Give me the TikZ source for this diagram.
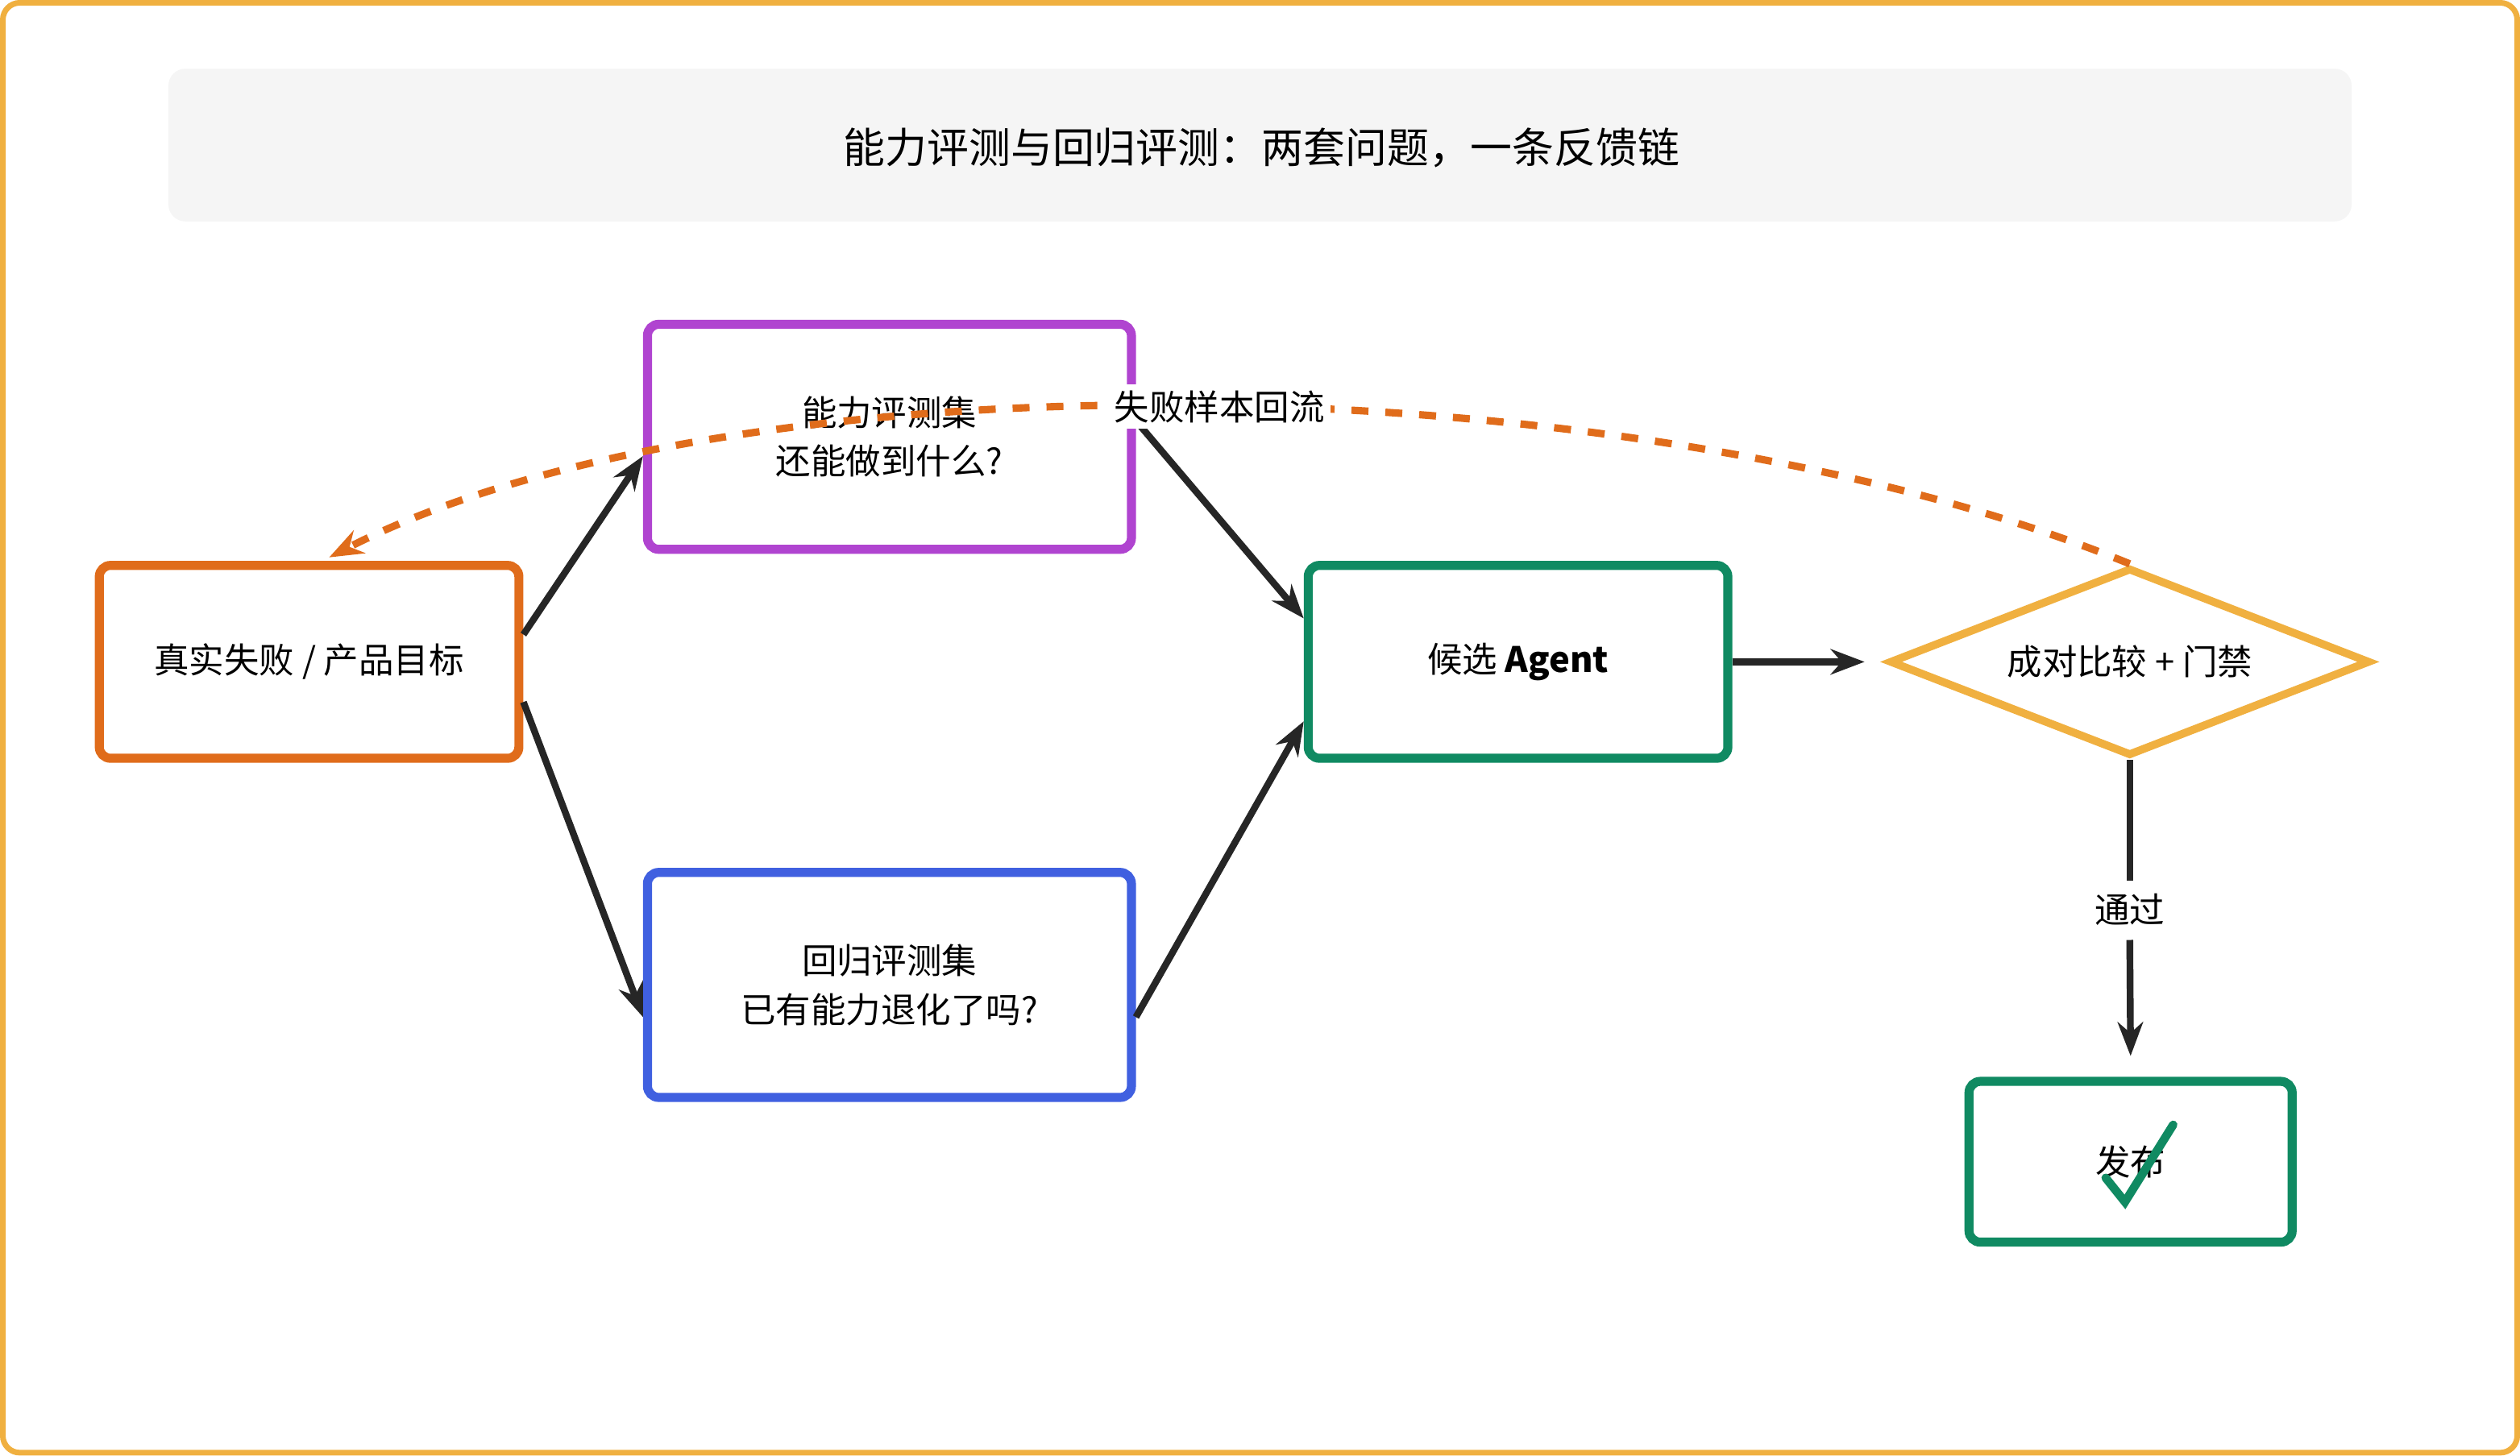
\documentclass[tikz,border=0pt]{standalone}
\usepackage{fontspec}
\setmainfont{Noto Sans CJK SC}
\usetikzlibrary{shapes.geometric,arrows.meta,positioning}
\definecolor{failorange}{HTML}{E06C1B}
\definecolor{capviolet}{HTML}{B044D0}
\definecolor{regblue}{HTML}{4060E0}
\definecolor{agentgreen}{HTML}{108A62}
\definecolor{gateyellow}{HTML}{F0B040}
\tikzset{
  box/.style={draw, line width=1.6pt, rounded corners=2pt, minimum width=2.61cm, minimum height=1.2cm, align=center, font=\fontsize{6.2}{8.6}\selectfont},
  flow/.style={-{Stealth[length=6pt,open]}, line width=1.2pt, draw=black!85},
}
\begin{document}
\begin{tikzpicture}
        % --- frame and title ---
        \draw[gateyellow, line width=1pt, rounded corners=3pt] (0.02,0.02) rectangle (15.66,9.04);
        \fill[black!4, rounded corners=3pt] (1.05,7.68) rectangle (14.63,8.63);
        \node[font=\fontsize{7.4}{9}\selectfont] (title) at (7.85,8.14) {能力评测与回归评测：两套问题，一条反馈链};
        % ---

        % --- boxes ---
        \node[box, draw=failorange] (fail) at (1.925,4.94) {真实失败 / 产品目标};
        \node[box, draw=capviolet, minimum width=3.01cm, minimum height=1.4cm] (cap) at (5.535,6.34) {能力评测集\\还能做到什么?};
        \node[box, draw=regblue, minimum width=3.01cm, minimum height=1.4cm] (reg) at (5.535,2.93) {回归评测集\\已有能力退化了吗?};
        \node[box, draw=agentgreen] (agent) at (9.445,4.94) {候选 \textbf{Agent}};
        \node[diamond, draw=gateyellow, line width=1.4pt, aspect=2.55, minimum width=2.99cm, minimum height=1.17cm, inner sep=0pt, font=\fontsize{6.2}{8}\selectfont] (gate) at (13.25,4.94) {成对比较 + 门禁};
        \node[box, draw=agentgreen, minimum width=2.01cm, minimum height=1.0cm] (release) at (13.255,1.83) {发布};
        \draw[agentgreen, line width=1.5pt, line cap=round] (13.10,1.73) -- (13.22,1.58) -- (13.52,2.06);
        % ---

        % --- connectors ---
        \draw[flow] ([yshift=0.17cm]fail.east) -- ([yshift=-0.12cm]cap.west);
        \draw[flow] ([yshift=-0.25cm]fail.east) -- ([yshift=-0.2cm]reg.west);
        \draw[flow] ([yshift=0.1cm]cap.east) -- ([yshift=0.27cm]agent.west);
        \draw[flow] ([yshift=-0.2cm]reg.east) -- ([yshift=-0.37cm]agent.west);
        \draw[flow] (agent.east) -- ([xshift=-0.13cm]gate.west);
        \draw[line width=1.2pt, draw=black!85] (gate.south) -- (13.25,3.58);
        \node[font=\fontsize{6.2}{8}\selectfont] (pass) at (13.25,3.40) {通过};
        \draw[flow] (13.25,3.21) -- ([yshift=0.13cm]release.north);
        \draw[failorange, dashed, line width=1.3pt, -{Stealth[length=6pt,open]}]
          (gate.north) .. controls (10.2,6.8) and (4.6,6.9) .. (2.05,5.59)
          node[pos=0.49, fill=white, inner sep=1pt, text=black, font=\fontsize{6.2}{8}\selectfont] (loop) {失败样本回流};
        % ---
\end{tikzpicture}
\end{document}
